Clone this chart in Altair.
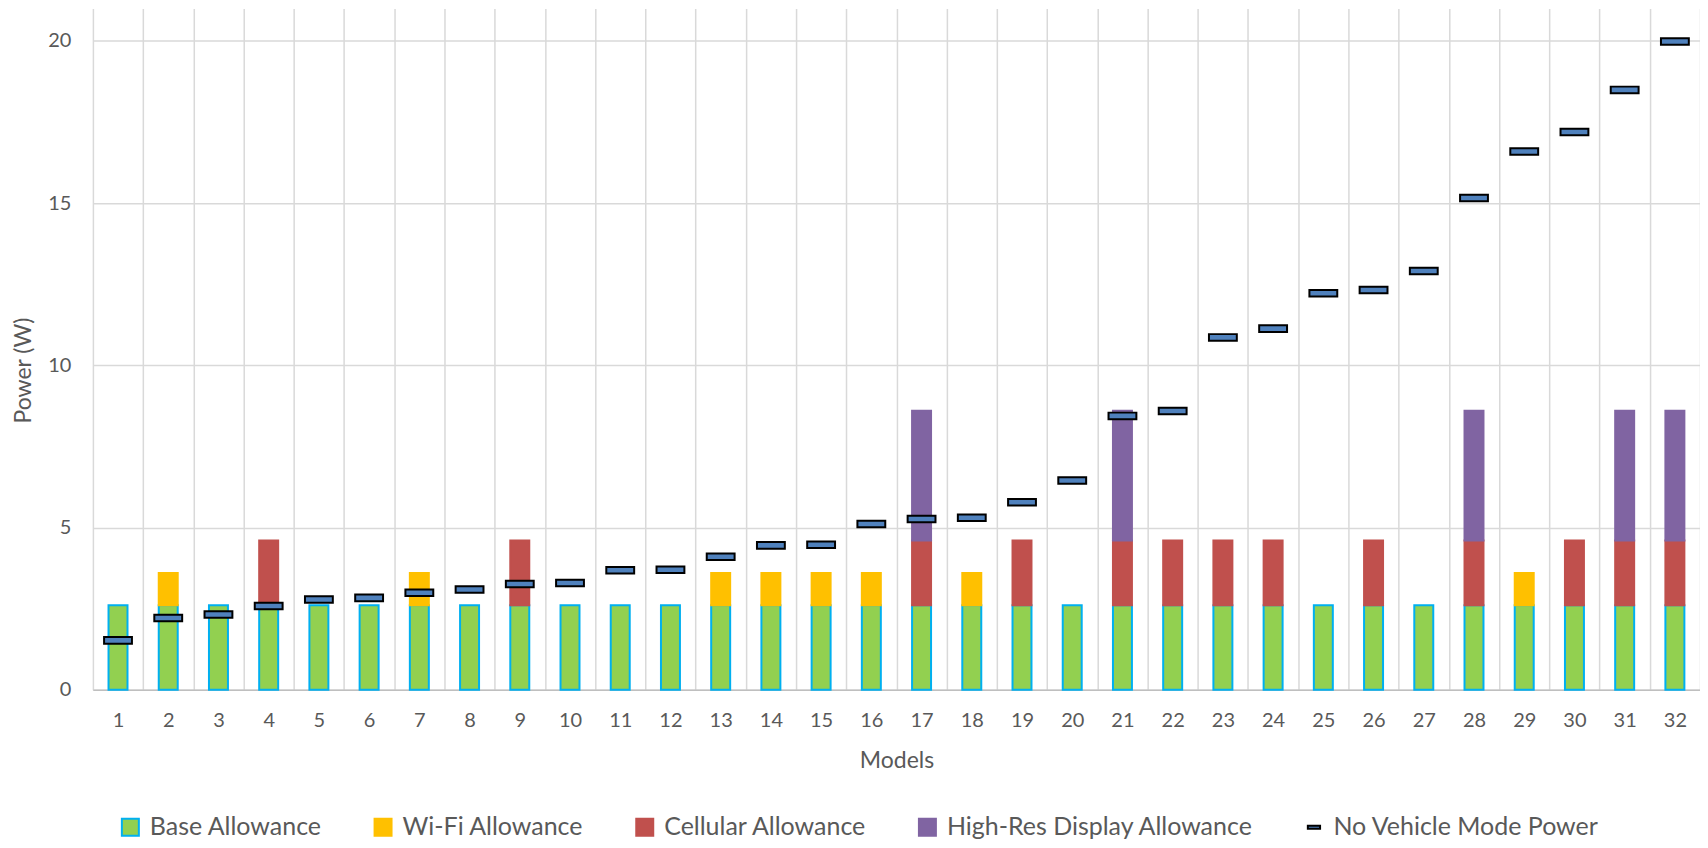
import altair as alt
import pandas as pd

# ---- data ----
models = list(range(1, 33))
base_allowance = [2.6, 2.6, 2.6, 2.6, 2.6, 2.6, 2.6, 2.6, 2.6, 2.6, 2.6, 2.6, 2.6, 2.6, 2.6, 2.6,
                  2.6, 2.6, 2.6, 2.6, 2.6, 2.6, 2.6, 2.6, 2.6, 2.6, 2.6, 2.6, 2.6, 2.6, 2.6, 2.6]
wifi_allowance = [0, 1.0, 0, 0, 0, 0, 1.0, 0, 0, 0, 0, 0, 1.0, 1.0, 1.0, 1.0,
                  0, 1.0, 0, 0, 0, 0, 0, 0, 0, 0, 0, 0, 1.0, 0, 0, 0]
cellular_allowance = [0, 0, 0, 2.0, 0, 0, 0, 0, 2.0, 0, 0, 0, 0, 0, 0, 0,
                      2.0, 0, 2.0, 0, 2.0, 2.0, 2.0, 2.0, 0, 2.0, 0, 2.0, 0, 2.0, 2.0, 2.0]
highres_allowance = [0, 0, 0, 0, 0, 0, 0, 0, 0, 0, 0, 0, 0, 0, 0, 0,
                     4.0, 0, 0, 0, 4.0, 0, 0, 0, 0, 0, 0, 4.0, 0, 0, 4.0, 4.0]
no_vehicle_mode_power = [1.52, 2.21, 2.32, 2.58, 2.78, 2.83, 2.99, 3.09, 3.26, 3.29, 3.68, 3.70,
                         4.10, 4.45, 4.47, 5.11, 5.26, 5.30, 5.78, 6.45, 8.44, 8.59, 10.86, 11.13,
                         12.22, 12.32, 12.91, 15.16, 16.59, 17.19, 18.49, 19.98]

series_names = ["Base Allowance", "Wi-Fi Allowance", "Cellular Allowance",
                "High-Res Display Allowance", "No Vehicle Mode Power"]
fill_colors = ["#92d050", "#ffc000", "#c0504d", "#8064a2", "#4f81bd"]
stroke_colors = ["#00b0f0", "#ffc000", "#c0504d", "#8064a2", "#000000"]
shapes = ["square", "square", "square", "square", "M-0.72,-0.17H0.72V0.17H-0.72Z"]

# ---- tables ----
rows = []
for i, m in enumerate(models):
    for k, arr in enumerate([base_allowance, wifi_allowance, cellular_allowance, highres_allowance]):
        if arr[i] > 0:
            rows.append({"model": m, "series": series_names[k], "value": arr[i], "ord": k})
bars_df = pd.DataFrame(rows)
pts_df = pd.DataFrame({"model": models,
                       "series": [series_names[4]] * len(models),
                       "value": no_vehicle_mode_power})

legend = alt.Legend(orient="none", legendX=25, legendY=807, direction="horizontal",
                    symbolSize=289, symbolStrokeWidth=2, labelOffset=7, columnPadding=48,
                    labelLimit=600, padding=0, title=None)

x_enc = alt.X("model:O",
              scale=alt.Scale(paddingInner=0, paddingOuter=0),
              axis=alt.Axis(title="Models", labelAngle=0, tickBand="extent", grid=True,
                            ticks=False, tickSize=0, labelPadding=21,
                            titleY=71, titleBaseline="middle"))
y_axis = alt.Axis(title="Power (W)", values=[0, 5, 10, 15, 20], grid=True, ticks=False,
                  tickSize=0, domain=False, labelPadding=22, titleX=-69, titleY=362,
                  titleBaseline="middle")
y_scale = alt.Scale(domain=[0, 21], nice=False)

color_enc = alt.Color("series:N", scale=alt.Scale(domain=series_names, range=fill_colors),
                      legend=legend, title=None)
stroke_enc = alt.Stroke("series:N", scale=alt.Scale(domain=series_names, range=stroke_colors),
                        legend=legend, title=None)
shape_enc = alt.Shape("series:N", scale=alt.Scale(domain=series_names, range=shapes),
                      legend=legend, title=None)

bars = alt.Chart(bars_df).mark_bar(width=19, strokeWidth=2).encode(
    x=x_enc,
    y=alt.Y("value:Q", stack="zero", scale=y_scale, axis=y_axis),
    color=color_enc,
    stroke=stroke_enc,
    order=alt.Order("ord:Q"),
)

points = alt.Chart(pts_df).mark_point(filled=True, size=1500, strokeWidth=2, opacity=1).encode(
    x=x_enc,
    y=alt.Y("value:Q", scale=y_scale, axis=y_axis),
    color=color_enc,
    stroke=stroke_enc,
    shape=shape_enc,
)

chart = alt.layer(bars, points).properties(
    width=1609, height=682,
    padding={"left": 85, "top": 0, "right": 0, "bottom": 154},
    autosize=alt.AutoSizeParams(type="none"),
).configure_view(stroke=None).configure_axis(
    labelFont="Lato", titleFont="Lato", labelColor="#595959", titleColor="#595959",
    labelFontSize=20, titleFontSize=23, titleFontWeight="normal",
    gridColor="#d9d9d9", gridWidth=1.5, domainColor="#bfbfbf", domainWidth=1.5,
).configure_legend(
    labelFont="Lato", labelFontSize=25, labelColor="#595959",
)

chart.save("out.html", embed_options={"renderer": "svg", "actions": False})
